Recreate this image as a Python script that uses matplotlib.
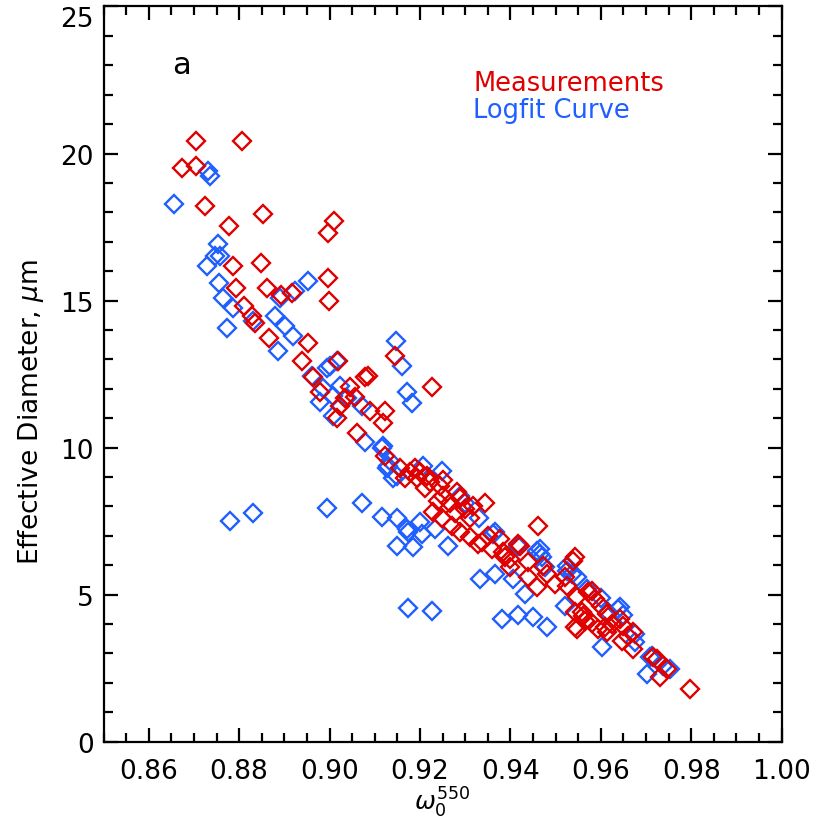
import numpy as np
import matplotlib
matplotlib.use('Agg')
import matplotlib.pyplot as plt
from matplotlib.ticker import MultipleLocator

# single scattering albedo at 550 nm vs effective diameter (um)
meas_w0 = [0.8705, 0.8806, 0.8674, 0.8705, 0.8725, 0.8853, 0.8778, 0.9010, 0.8997, 0.8787,
           0.8848, 0.8997, 0.8999, 0.8793, 0.8862, 0.8893, 0.8917, 0.8811, 0.8829, 0.8835,
           0.8866, 0.8952, 0.8939, 0.9019, 0.8964, 0.8979, 0.9045, 0.9079, 0.9085, 0.9056,
           0.9023, 0.9090, 0.9123, 0.9016, 0.9145, 0.9227, 0.9118, 0.9061, 0.9123, 0.9156,
           0.9178, 0.9194, 0.9211, 0.9245, 0.9251, 0.9282, 0.9289, 0.9318, 0.9344, 0.9229,
           0.9249, 0.9271, 0.9289, 0.9311, 0.9329, 0.9360, 0.9384, 0.9422, 0.9461, 0.9337,
           0.9388, 0.9417, 0.9399, 0.9439, 0.9459, 0.9472, 0.9499, 0.9543, 0.9525, 0.9548,
           0.9572, 0.9587, 0.9543, 0.9561, 0.9548, 0.9614, 0.9643, 0.9594, 0.9614, 0.9649,
           0.9672, 0.9647, 0.9672, 0.9716, 0.9725, 0.9747, 0.9731, 0.9798, 0.9539, 0.9581,
           0.9610, 0.9565, 0.9559, 0.9543, 0.9035, 0.9200, 0.9222, 0.9190, 0.9167, 0.9267,
           0.9311, 0.9278, 0.9377, 0.9580, 0.9625, 0.9660, 0.9600, 0.9520, 0.9480, 0.9440,
           0.9400, 0.9350, 0.9300, 0.9250, 0.9215, 0.9240]
meas_deff = [20.44, 20.41, 19.52, 19.56, 18.20, 17.96, 17.52, 17.69, 17.31, 16.16,
             16.29, 15.75, 15.00, 15.41, 15.41, 15.20, 15.24, 14.83, 14.46, 14.22,
             13.74, 13.54, 12.96, 12.93, 12.41, 11.90, 12.07, 12.41, 12.45, 11.73,
             11.43, 11.26, 11.26, 10.99, 13.10, 12.07, 10.82, 10.48, 9.73, 9.29,
             9.18, 8.95, 8.61, 8.71, 8.37, 8.50, 8.27, 8.03, 8.10, 7.82,
             7.59, 7.35, 7.14, 6.97, 6.73, 6.56, 6.46, 6.67, 7.35, 6.80,
             6.29, 6.73, 5.95, 5.61, 5.27, 5.99, 5.37, 6.29, 5.31, 4.93,
             5.10, 4.86, 4.42, 4.29, 3.84, 4.35, 4.18, 3.84, 3.74, 3.95,
             3.74, 3.44, 3.16, 2.89, 2.82, 2.48, 2.21, 1.80, 6.16, 5.14,
             3.91, 4.12, 4.42, 3.91, 11.67, 9.18, 8.84, 9.29, 8.95, 8.10,
             7.59, 7.76, 6.90, 4.05, 4.00, 3.60, 4.60, 5.60, 5.70, 6.10,
             6.20, 7.00, 7.90, 8.90, 9.05, 8.20]

fit_w0 = [0.8656, 0.8731, 0.8736, 0.8753, 0.8747, 0.8758, 0.8729, 0.8756, 0.8764, 0.8787,
          0.8773, 0.8831, 0.8880, 0.8902, 0.8919, 0.8886, 0.8923, 0.8953, 0.8890, 0.9001,
          0.9016, 0.8961, 0.9147, 0.9160, 0.9172, 0.9183, 0.9072, 0.8995, 0.9023, 0.8986,
          0.9008, 0.8979, 0.9039, 0.9008, 0.9079, 0.9116, 0.9130, 0.9149, 0.9207, 0.9249,
          0.9289, 0.8994, 0.9072, 0.9116, 0.9149, 0.9200, 0.9174, 0.8831, 0.8780, 0.9366,
          0.9118, 0.9134, 0.9127, 0.9141, 0.9172, 0.9205, 0.9149, 0.9185, 0.9233, 0.9262,
          0.9362, 0.9459, 0.9417, 0.9466, 0.9470, 0.9333, 0.9366, 0.9406, 0.9433, 0.9477,
          0.9525, 0.9536, 0.9548, 0.9521, 0.9382, 0.9417, 0.9450, 0.9481, 0.9616, 0.9643,
          0.9676, 0.9603, 0.9702, 0.9713, 0.9754, 0.9525, 0.9676, 0.9709, 0.9738, 0.9638,
          0.9174, 0.9227, 0.9466, 0.9300, 0.9330, 0.9570, 0.9600, 0.9650]
fit_deff = [18.30, 19.39, 19.22, 16.94, 16.53, 16.50, 16.16, 15.61, 15.07, 14.73,
            14.05, 14.29, 14.49, 14.15, 13.78, 13.27, 15.31, 15.65, 15.07, 12.79,
            12.93, 12.45, 13.61, 12.76, 11.90, 11.50, 11.43, 12.69, 12.11, 12.01,
            11.77, 11.56, 11.67, 11.09, 10.20, 9.97, 9.39, 9.05, 9.39, 9.22,
            8.37, 7.93, 8.10, 7.65, 7.59, 7.48, 7.14, 7.76, 7.52, 7.14,
            10.07, 9.56, 9.29, 8.95, 7.24, 7.07, 6.67, 6.63, 7.24, 6.67,
            7.07, 6.50, 6.67, 6.56, 6.29, 5.54, 5.71, 5.54, 5.03, 5.95,
            5.99, 5.71, 5.61, 4.63, 4.18, 4.32, 4.25, 3.91, 4.42, 4.59,
            3.67, 3.23, 2.31, 2.93, 2.48, 5.82, 3.40, 2.89, 2.59, 4.52,
            4.56, 4.46, 6.39, 8.10, 7.60, 5.20, 4.90, 4.30]

xticks = [0.86, 0.88, 0.90, 0.92, 0.94, 0.96, 0.98, 1.00]
yticks = [0, 5, 10, 15, 20, 25]

red = '#e00000'
blue = '#1f5fff'

plt.rcParams['font.family'] = 'DejaVu Sans'

fig = plt.figure(figsize=(8.15, 8.28), dpi=100)
ax = fig.add_axes([0.127, 0.103, 0.832, 0.888])

ax.plot(fit_w0, fit_deff, linestyle='none', marker='D', ms=9, mfc='none',
        mec=blue, mew=1.7)
ax.plot(meas_w0, meas_deff, linestyle='none', marker='D', ms=9, mfc='none',
        mec=red, mew=1.7)

ax.set_xlim(0.85, 1.00)
ax.set_ylim(0, 25)
ax.set_xticks(xticks)
ax.set_xticklabels([f'{v:.2f}' for v in xticks])
ax.set_yticks(yticks)
ax.set_yticklabels([str(v) for v in yticks])
ax.xaxis.set_minor_locator(MultipleLocator(0.005))
ax.yaxis.set_minor_locator(MultipleLocator(1))

ax.tick_params(which='both', direction='in', top=True, right=True, width=1.6, color='black')
ax.tick_params(which='major', length=10, labelsize=19)
ax.tick_params(which='minor', length=6.5)
ax.tick_params(axis='x', pad=12)
ax.tick_params(axis='y', pad=7)
for s in ax.spines.values():
    s.set_linewidth(1.6)

# keep the top label inside the figure
ax.yaxis.get_major_ticks()[-1].label1.set_va('top')

ax.set_xlabel(r'$\omega_0^{550}$', fontsize=18, labelpad=0)
ax.set_ylabel('Effective Diameter, $\\mu$m', fontsize=19)
ax.yaxis.set_label_coords(-0.085, 0.45)

ax.text(0.101, 0.909, 'a', transform=ax.transAxes, fontsize=22, color='black')
ax.text(0.545, 0.886, 'Measurements', transform=ax.transAxes, fontsize=18.5, color=red)
ax.text(0.545, 0.850, 'Logfit Curve', transform=ax.transAxes, fontsize=18.5, color=blue)

plt.savefig('out.png', dpi=100)
